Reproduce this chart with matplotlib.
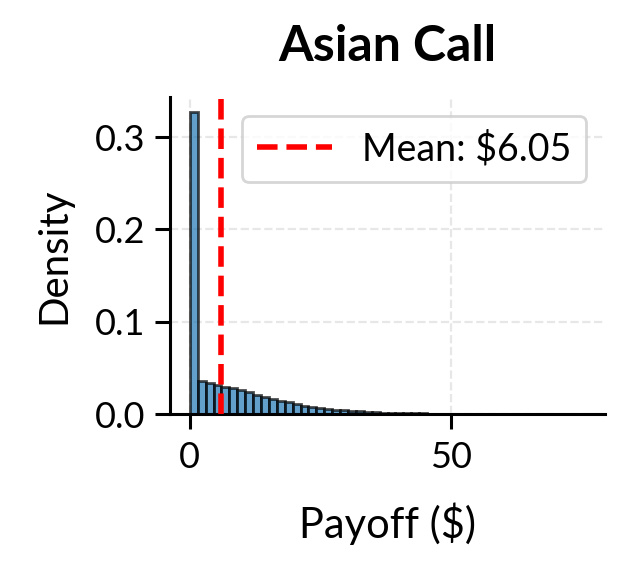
import numpy as np
import matplotlib
matplotlib.use("Agg")
import matplotlib.pyplot as plt

# ---- data ----
title = "Asian Call"
payoff_min = 0.0
payoff_max = 75.6
n_bins = 50
densities = [0.327, 0.0362, 0.0340, 0.0318, 0.0296, 0.0278, 0.0256, 0.0236, 0.0210, 0.0188,
             0.0166, 0.0145, 0.0125, 0.0108, 0.0090, 0.0077, 0.0066, 0.0056, 0.0047, 0.0040,
             0.0033, 0.0028, 0.0023, 0.0019, 0.0016, 0.0013, 0.0011, 0.0009, 0.0007, 0.0006,
             0.0005, 0.0004, 0.0003, 0.00025, 0.0002, 0.00015, 0.00012, 0.0001, 0.00008, 0.00006,
             0.00005, 0.00004, 0.00003, 0.00002, 0.00002, 0.00001, 0.00001, 0.00001, 0.0, 0.00001]
mean_payoff = 6.05
x_ticks = [0, 50]
y_ticks = [0.0, 0.1, 0.2, 0.3]

plt.rcParams['font.family'] = ['Lato', 'DejaVu Sans']

fig = plt.figure(figsize=(6.34 / 2, 5.74 / 2), dpi=200)
ax = fig.add_axes([170 / 634, 1 - 414 / 574, (605 - 170) / 634, (414 - 97) / 574])

edges = np.linspace(payoff_min, payoff_max, n_bins + 1)
ax.bar(edges[:-1], densities, width=np.diff(edges), align='edge',
       color='tab:blue', alpha=0.7, edgecolor='black', linewidth=1.0, zorder=2)
ax.axvline(mean_payoff, color='red', linestyle='--', linewidth=2,
           label=f"Mean: ${mean_payoff:.2f}", zorder=3)

ax.set_title(title, fontsize=18, fontweight='bold', pad=13)
ax.set_xlabel("Payoff ($)", fontsize=15, labelpad=10)
ax.set_ylabel("Density", fontsize=14.5, labelpad=8)
ax.set_xticks(x_ticks)
ax.set_yticks(y_ticks)
ax.set_yticklabels([f"{v:.1f}" for v in y_ticks])
ax.tick_params(labelsize=13, length=5.4, width=1.1)
ax.tick_params(axis='x', pad=4.5)
ax.grid(True, linestyle='--', alpha=0.3, zorder=0)
ax.set_axisbelow(True)
for s in ['top', 'right']:
    ax.spines[s].set_visible(False)
for s in ['left', 'bottom']:
    ax.spines[s].set_linewidth(1.1)

ax.legend(fontsize=13.5, loc='upper right', framealpha=0.8)

fig.savefig("out.png", dpi=200)
